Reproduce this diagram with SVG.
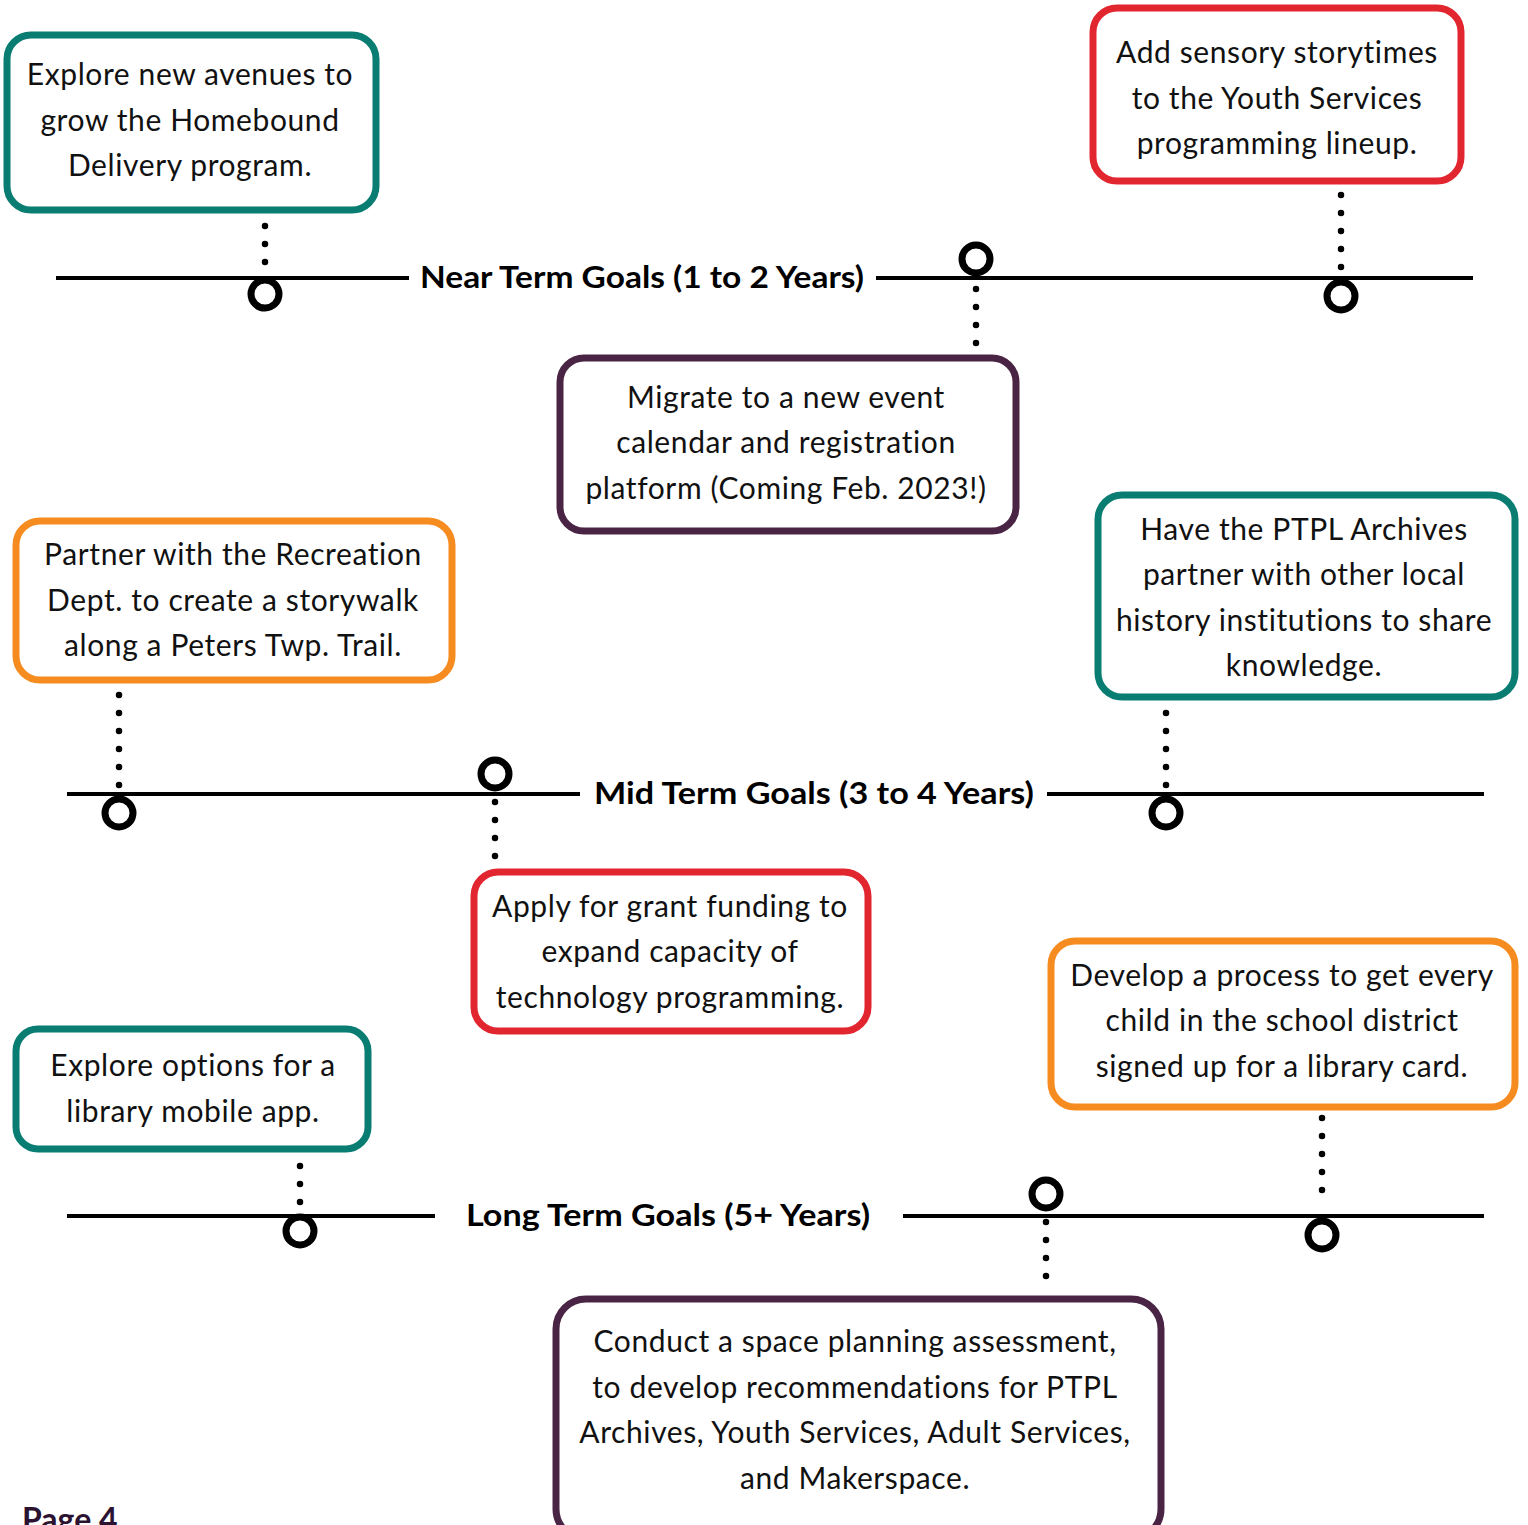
<svg xmlns="http://www.w3.org/2000/svg" width="1528" height="1525" viewBox="0 0 1528 1525">
<style>
.box{fill:#fff;stroke-width:7}
.teal{stroke:#0a7d73}
.red{stroke:#e22630}
.orange{stroke:#f68c20}
.purple{stroke:#4a2444}
.t{font-family:Lato,"Liberation Sans",sans-serif;font-size:30px;letter-spacing:0.6px;fill:#111;text-anchor:middle;dominant-baseline:central}
.lbl{font-family:Lato,"Liberation Sans",sans-serif;font-size:30px;font-weight:bold;fill:#000;dominant-baseline:central}
.line{stroke:#000;stroke-width:4;fill:none}
.dots{stroke:#000;stroke-width:6.5;stroke-linecap:round;stroke-dasharray:0 18;fill:none}
.ring{fill:#fff;stroke:#000;stroke-width:7}
</style>
<rect width="1528" height="1525" fill="#fff"/>
<g id="connectors">
<line class="line" x1="56" y1="278" x2="409" y2="278"/>
<line class="line" x1="876" y1="278" x2="1473" y2="278"/>
<line class="line" x1="67" y1="794" x2="580" y2="794"/>
<line class="line" x1="1047" y1="794" x2="1484" y2="794"/>
<line class="line" x1="67" y1="1216" x2="435" y2="1216"/>
<line class="line" x1="903" y1="1216" x2="1484" y2="1216"/>
<line class="dots" x1="265" y1="226" x2="265" y2="268"/>
<line class="dots" x1="976" y1="289" x2="976" y2="344"/>
<line class="dots" x1="1341" y1="195" x2="1341" y2="268"/>
<line class="dots" x1="119" y1="695" x2="119" y2="786"/>
<line class="dots" x1="495" y1="802" x2="495" y2="858"/>
<line class="dots" x1="1166" y1="713" x2="1166" y2="786"/>
<line class="dots" x1="300" y1="1166" x2="300" y2="1204"/>
<line class="dots" x1="1046" y1="1222" x2="1046" y2="1278"/>
<line class="dots" x1="1322" y1="1118" x2="1322" y2="1208"/>
<circle class="ring" cx="265" cy="294" r="14"/>
<circle class="ring" cx="976" cy="259" r="14"/>
<circle class="ring" cx="1341" cy="296" r="14"/>
<circle class="ring" cx="119" cy="813" r="14"/>
<circle class="ring" cx="495" cy="774" r="14"/>
<circle class="ring" cx="1166" cy="813" r="14"/>
<circle class="ring" cx="300" cy="1231" r="14"/>
<circle class="ring" cx="1046" cy="1194" r="14"/>
<circle class="ring" cx="1322" cy="1235" r="14"/>
</g>
<g id="labels">
<text class="lbl" x="420" y="276" textLength="444" lengthAdjust="spacingAndGlyphs">Near Term Goals (1 to 2 Years)</text>
<text class="lbl" x="594" y="792" textLength="440" lengthAdjust="spacingAndGlyphs">Mid Term Goals (3 to 4 Years)</text>
<text class="lbl" x="466" y="1214" textLength="404" lengthAdjust="spacingAndGlyphs">Long Term Goals (5+ Years)</text>
</g>
<g id="node1"><rect class="box teal" x="7" y="35" width="369" height="175" rx="24"/>
<text class="t" x="190" y="73">Explore new avenues to</text><text class="t" x="190" y="119">grow the Homebound</text><text class="t" x="190" y="164">Delivery program.</text></g>
<g id="node2"><rect class="box red" x="1093" y="8" width="368" height="173" rx="24"/>
<text class="t" x="1277" y="51">Add sensory storytimes</text><text class="t" x="1277" y="97">to the Youth Services</text><text class="t" x="1277" y="142">programming lineup.</text></g>
<g id="node3"><rect class="box purple" x="560" y="358" width="456" height="173" rx="24"/>
<text class="t" x="786" y="396">Migrate to a new event</text><text class="t" x="786" y="441">calendar and registration</text><text class="t" x="786" y="487">platform (Coming Feb. 2023!)</text></g>
<g id="node4"><rect class="box orange" x="16" y="521" width="436" height="159" rx="24"/>
<text class="t" x="233" y="553">Partner with the Recreation</text><text class="t" x="233" y="599">Dept. to create a storywalk</text><text class="t" x="233" y="644">along a Peters Twp. Trail.</text></g>
<g id="node5"><rect class="box teal" x="1098" y="495" width="417" height="202" rx="24"/>
<text class="t" x="1304" y="528">Have the PTPL Archives</text><text class="t" x="1304" y="573">partner with other local</text><text class="t" x="1304" y="619">history institutions to share</text><text class="t" x="1304" y="664">knowledge.</text></g>
<g id="node6"><rect class="box red" x="474" y="872" width="394" height="159" rx="24"/>
<text class="t" x="670" y="905">Apply for grant funding to</text><text class="t" x="670" y="950">expand capacity of</text><text class="t" x="670" y="996">technology programming.</text></g>
<g id="node7"><rect class="box teal" x="16" y="1029" width="352" height="120" rx="22"/>
<text class="t" x="193" y="1064">Explore options for a</text><text class="t" x="193" y="1110">library mobile app.</text></g>
<g id="node8"><rect class="box orange" x="1051" y="941" width="464" height="166" rx="24"/>
<text class="t" x="1282" y="974">Develop a process to get every</text><text class="t" x="1282" y="1019">child in the school district</text><text class="t" x="1282" y="1065">signed up for a library card.</text></g>
<g id="node9"><rect class="box purple" x="556" y="1299" width="605" height="240" rx="30"/>
<text class="t" x="855" y="1340">Conduct a space planning assessment,</text><text class="t" x="855" y="1386">to develop recommendations for PTPL</text><text class="t" x="855" y="1431">Archives, Youth Services, Adult Services,</text><text class="t" x="855" y="1477">and Makerspace.</text></g>
<text x="22" y="1531" font-family="Lato,'Liberation Sans',sans-serif" font-size="32" font-weight="bold" fill="#2a1230">Page 4</text>
</svg>
